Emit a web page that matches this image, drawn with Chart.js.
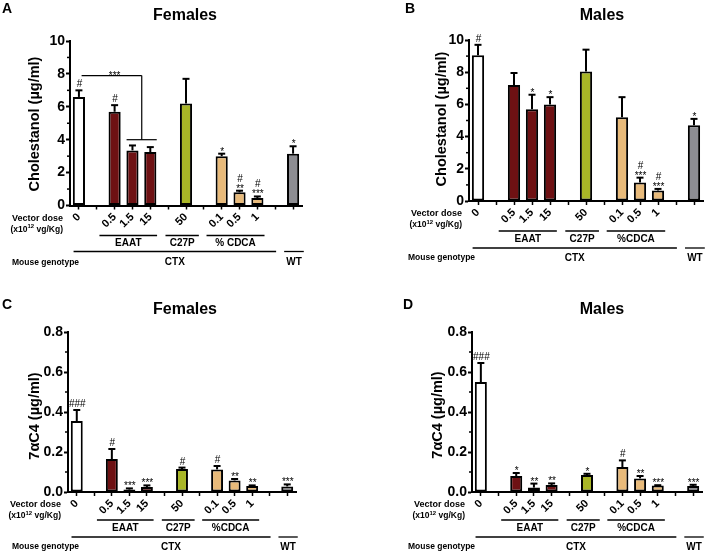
<!DOCTYPE html>
<html>
<head>
<meta charset="utf-8">
<script src="https://cdn.jsdelivr.net/npm/chart.js@4.4.0/dist/chart.umd.min.js"></script>
<style>
  body { margin: 0; background: #fff; }
  #wrap { position: relative; width: 705px; height: 553px; }
  canvas { position: absolute; }
</style>
</head>
<body>
<div id="wrap">
  <canvas id="cA" width="352" height="276" style="left:0;top:0"></canvas>
  <canvas id="cB" width="353" height="276" style="left:352px;top:0"></canvas>
  <canvas id="cC" width="352" height="277" style="left:0;top:276px"></canvas>
  <canvas id="cD" width="353" height="277" style="left:352px;top:276px"></canvas>
</div>
<script>
// categories (empty slots are the gaps between groups)
const doseLabels = ['0', '', '0.5', '1.5', '15', '', '50', '', '0.1', '0.5', '1', '', ''];
const groupNames = ['EAAT', 'C27P', '%CDCA'];
const genotypeNames = ['CTX', 'WT'];

const WHITE = '#ffffff', EAAT_RED = '#6e1113', C27P_OLIVE = '#a9b627', CDCA_TAN = '#e8ba7a', WT_GRAY = '#8d8d92';
const barColors = [WHITE, null, EAAT_RED, EAAT_RED, EAAT_RED, null, C27P_OLIVE, null, CDCA_TAN, CDCA_TAN, CDCA_TAN, null, WT_GRAY];

// A - cholestanol, females
const cholFemMean = [6.6, null, 5.7, 3.35, 3.25, null, 6.2, null, 3.0, 0.8, 0.45, null, 3.15];
const cholFemErr  = [0.4, null, 0.4, 0.3, 0.3, null, 1.5, null, 0.15, 0.1, 0.1, null, 0.45];
const cholFemSig  = ['#', '', '#', '', '', '', '', '', '*', '#\n**', '#\n***', '', '*'];

// B - cholestanol, males
const cholMaleMean = [9.05, null, 7.2, 5.7, 6.0, null, 8.05, null, 5.2, 1.15, 0.65, null, 4.7];
const cholMaleErr  = [0.65, null, 0.75, 0.9, 0.45, null, 1.35, null, 1.25, 0.3, 0.1, null, 0.4];
const cholMaleSig  = ['#', '', '', '*', '*', '', '', '', '', '#\n***', '#\n***', '', '*'];

// C - 7aC4, females
const c4FemMean = [0.355, null, 0.165, 0.012, 0.025, null, 0.115, null, 0.113, 0.058, 0.03, null, 0.028];
const c4FemErr  = [0.055, null, 0.05, 0.006, 0.008, null, 0.007, null, 0.017, 0.007, 0.003, null, 0.01];
const c4FemSig  = ['###', '', '#', '***', '***', '', '#', '', '#', '**', '**', '', '***'];

// D - 7aC4, males
const c4MaleMean = [0.55, null, 0.08, 0.022, 0.035, null, 0.085, null, 0.125, 0.068, 0.032, null, 0.03];
const c4MaleErr  = [0.095, null, 0.015, 0.02, 0.008, null, 0.006, null, 0.033, 0.012, 0.002, null, 0.006];
const c4MaleSig  = ['###', '', '*', '**', '**', '', '*', '', '#', '**', '***', '', '***'];

const FONT = 'Liberation Sans, Arial, sans-serif';

// group underline spans, in category index units
const groupSpans = [[1.15, 4.38], [4.85, 6.72], [7.15, 10.4]];
const genotypeSpans = [[-0.3, 11.05], [11.5, 12.6]];

function seg(ctx, x1, y1, x2, y2) {
  ctx.beginPath();
  ctx.moveTo(x1, y1);
  ctx.lineTo(x2, y2);
  ctx.stroke();
}

const panelDecor = {
  id: 'panelDecor',
  afterDraw(chart, args, o) {
    const ctx = chart.ctx;
    const xs = chart.scales.x, ys = chart.scales.y;
    const ca = chart.chartArea;
    const mean = chart.data.datasets[0].data;
    ctx.save();
    ctx.strokeStyle = '#000';
    ctx.fillStyle = '#000';

    // minor ticks on y
    ctx.lineWidth = 1.5;
    o.minor.forEach(v => {
      const py = ys.getPixelForValue(v);
      seg(ctx, ca.left - 3, py, ca.left, py);
    });

    // error bars + significance marks
    o.err.forEach((e, i) => {
      const m = mean[i];
      if (m == null) return;
      const px = xs.getPixelForValue(i);
      const y0 = ys.getPixelForValue(m);
      const y1 = ys.getPixelForValue(m + e);
      ctx.lineWidth = 2;
      seg(ctx, px, y0, px, y1);
      seg(ctx, px - 3.5, y1, px + 3.5, y1);
      const marks = o.sig[i] ? o.sig[i].split('\n').reverse() : [];
      ctx.font = '10px ' + FONT;
      ctx.textAlign = 'center';
      ctx.textBaseline = 'alphabetic';
      let yy = y1 - 3;
      marks.forEach(t => {
        const star = t.indexOf('*') >= 0;
        ctx.fillText(t, px + 0.5, star ? yy + 4 : yy);
        yy -= star ? 6 : 10;
      });
    });

    // bracket (panel A)
    if (o.bracket) {
      const b = o.bracket;
      ctx.lineWidth = 1.2;
      const yu = ys.getPixelForValue(b.upper), yl = ys.getPixelForValue(b.lower);
      seg(ctx, xs.getPixelForValue(b.from), yu, xs.getPixelForValue(b.corner), yu);
      seg(ctx, xs.getPixelForValue(b.corner), yu, xs.getPixelForValue(b.corner), yl);
      seg(ctx, xs.getPixelForValue(b.lowFrom), yl, xs.getPixelForValue(b.lowTo), yl);
      ctx.font = '10px ' + FONT;
      ctx.textAlign = 'center';
      ctx.fillText(b.text, xs.getPixelForValue(b.textAt), yu + 3);
    }

    // panel letter and title
    ctx.textBaseline = 'top';
    ctx.textAlign = 'left';
    ctx.font = 'bold 14px ' + FONT;
    ctx.fillText(o.letter, o.letterX, o.letterY);
    ctx.textAlign = 'center';
    ctx.textBaseline = 'middle';
    ctx.font = 'bold 16px ' + FONT;
    ctx.fillText(o.title, o.titleX, o.titleY);

    // y title
    ctx.save();
    ctx.translate(o.yTitleX, o.yTitleY);
    ctx.rotate(-Math.PI / 2);
    ctx.font = 'bold 14.5px ' + FONT;
    ctx.fillText(o.yTitle, 0, 0);
    ctx.restore();

    // vector dose labels
    const bot = ca.bottom;
    const rx = ca.left - 7;
    ctx.textAlign = 'right';
    ctx.font = 'bold 9px ' + FONT;
    ctx.fillText('Vector dose', rx, bot + 13);
    const p1 = '(x10', sup = '12', p2 = ' vg/Kg)';
    ctx.font = 'bold 8.5px ' + FONT;
    const w1 = ctx.measureText(p1).width, w3 = ctx.measureText(p2).width;
    ctx.font = 'bold 6px ' + FONT;
    const w2 = ctx.measureText(sup).width;
    let sx = rx - (w1 + w2 + w3);
    ctx.textAlign = 'left';
    ctx.font = 'bold 8.5px ' + FONT;
    ctx.fillText(p1, sx, bot + 24);
    ctx.font = 'bold 6px ' + FONT;
    ctx.fillText(sup, sx + w1, bot + 21);
    ctx.font = 'bold 8.5px ' + FONT;
    ctx.fillText(p2, sx + w1 + w2, bot + 24);

    // group underlines
    const r = o.rows;
    ctx.lineWidth = 1.3;
    ctx.textAlign = 'center';
    ctx.font = 'bold 10px ' + FONT;
    groupSpans.forEach((sp, k) => {
      const a = xs.getPixelForValue(sp[0]), b = xs.getPixelForValue(sp[1]);
      seg(ctx, a, bot + r[0], b, bot + r[0]);
      ctx.fillText(o.groups[k], (a + b) / 2, bot + r[1]);
    });
    genotypeSpans.forEach((sp, k) => {
      const a = xs.getPixelForValue(sp[0]), b = xs.getPixelForValue(sp[1]);
      seg(ctx, a, bot + r[2], b, bot + r[2]);
      ctx.fillText(genotypeNames[k], (a + b) / 2, bot + r[3]);
    });
    ctx.textAlign = 'left';
    ctx.font = 'bold 8.5px ' + FONT;
    ctx.fillText('Mouse genotype', o.genoX, bot + r[3]);
    ctx.restore();
  }
};

function makePanel(id, cfg) {
  const cv = document.getElementById(id);
  const W = cv.width, H = cv.height;
  const a = cfg.area;
  return new Chart(cv, {
    type: 'bar',
    data: {
      labels: doseLabels,
      datasets: [{
        data: cfg.mean,
        backgroundColor: barColors,
        borderColor: '#000',
        borderWidth: 2,
        borderSkipped: false,
        barPercentage: 0.68,
        categoryPercentage: 1
      }]
    },
    options: {
      responsive: false,
      animation: false,
      layout: { padding: { left: 0, top: a.top, right: W - a.right, bottom: 0 } },
      plugins: {
        legend: { display: false },
        tooltip: { enabled: false },
        panelDecor: cfg.decor
      },
      scales: {
        x: {
          offset: true,
          grid: { offset: false, drawOnChartArea: false, tickLength: 4, tickWidth: 1.5, tickColor: '#000' },
          border: { color: '#000', width: 2 },
          ticks: {
            color: '#000', autoSkip: false, minRotation: 45, maxRotation: 45, padding: 1,
            font: { family: FONT, size: 11, weight: 'bold' }
          },
          afterFit(s) { s.height = H - a.bottom; }
        },
        y: {
          min: 0,
          max: cfg.max,
          grid: { drawOnChartArea: false, tickLength: 4, tickWidth: 2, tickColor: '#000' },
          border: { color: '#000', width: 2 },
          ticks: {
            stepSize: cfg.step, color: '#000', padding: 1,
            font: { family: FONT, size: 14, weight: 'bold' },
            callback: cfg.fmt
          },
          afterFit(s) { s.width = a.left; }
        }
      }
    },
    plugins: [panelDecor]
  });
}

const cholMinor = [1, 3, 5, 7, 9];
const c4Minor = [0.1, 0.3, 0.5, 0.7];
const fmtInt = v => String(v);
const fmt1 = v => v.toFixed(1);

makePanel('cA', {
  area: { left: 70, top: 41, right: 302, bottom: 205.5 },
  mean: cholFemMean, max: 10, step: 2, fmt: fmtInt,
  decor: {
    err: cholFemErr, sig: cholFemSig, minor: cholMinor,
    letter: 'A', letterX: 2, letterY: 2, title: 'Females', titleX: 185, titleY: 16,
    yTitle: 'Cholestanol (µg/ml)', yTitleX: 35, yTitleY: 124,
    groups: ['EAAT', 'C27P', '% CDCA'], rows: [30, 38, 46, 57], genoX: 12,
    bracket: { upper: 7.9, lower: 4.0, from: 0.15, corner: 3.52, lowFrom: 2.67, lowTo: 4.36, text: '***', textAt: 2.0 }
  }
});

makePanel('cB', {
  area: { left: 117, top: 40, right: 351, bottom: 201 },
  mean: cholMaleMean, max: 10, step: 2, fmt: fmtInt,
  decor: {
    err: cholMaleErr, sig: cholMaleSig, minor: cholMinor,
    letter: 'B', letterX: 53, letterY: 2, title: 'Males', titleX: 250, titleY: 16,
    yTitle: 'Cholestanol (µg/ml)', yTitleX: 90, yTitleY: 119,
    groups: groupNames, rows: [30, 38, 47, 57], genoX: 56
  }
});

makePanel('cC', {
  area: { left: 68, top: 56, right: 296, bottom: 216 },
  mean: c4FemMean, max: 0.8, step: 0.2, fmt: fmt1,
  decor: {
    err: c4FemErr, sig: c4FemSig, minor: c4Minor,
    letter: 'C', letterX: 2, letterY: 22, title: 'Females', titleX: 185, titleY: 34,
    yTitle: '7αC4 (µg/ml)', yTitleX: 35, yTitleY: 140,
    groups: groupNames, rows: [28, 36, 45, 55], genoX: 12
  }
});

makePanel('cD', {
  area: { left: 120, top: 56, right: 350, bottom: 216 },
  mean: c4MaleMean, max: 0.8, step: 0.2, fmt: fmt1,
  decor: {
    err: c4MaleErr, sig: c4MaleSig, minor: c4Minor,
    letter: 'D', letterX: 51, letterY: 22, title: 'Males', titleX: 250, titleY: 34,
    yTitle: '7αC4 (µg/ml)', yTitleX: 86, yTitleY: 139,
    groups: groupNames, rows: [28, 36, 45, 55], genoX: 56
  }
});
</script>
</body>
</html>
